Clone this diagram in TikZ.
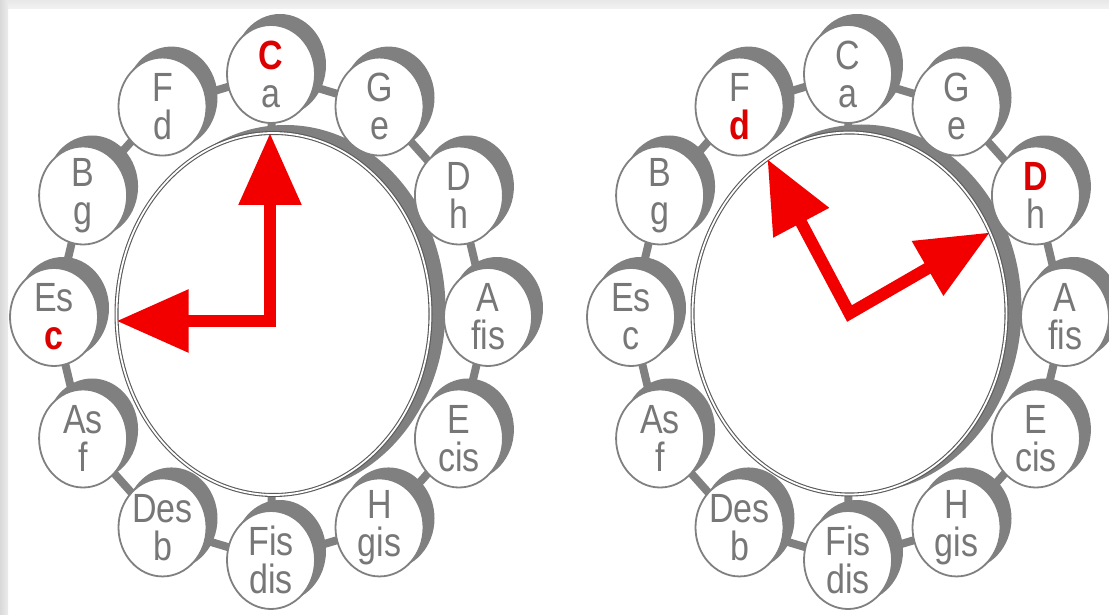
\documentclass[tikz,border=0pt]{standalone}
\usepackage{graphicx}
\usepackage{fontspec}
\setmainfont{Liberation Sans}
\usetikzlibrary{shapes.geometric,arrows.meta,calc}
\definecolor{ringgray}{HTML}{808080}
\definecolor{txtgray}{HTML}{777777}
\definecolor{dialline}{HTML}{5A5A5A}
\definecolor{hired}{HTML}{DD0000}
\definecolor{arrred}{HTML}{F20000}
\newcommand{\st}[1]{\scalebox{1}[1.2]{#1}}
\newcommand{\hl}[1]{\textcolor{hired}{\bfseries #1}}
\pgfdeclarelayer{back}
\pgfdeclarelayer{bg}
\pgfsetlayers{back,bg,main}
\tikzset{
  key/.style={ellipse, draw=ringgray, line width=1.8pt, fill=white,
    minimum width=88pt, minimum height=98pt, inner xsep=-15pt, inner ysep=-20pt,
    outer sep=0pt, align=center, text=txtgray, font=\fontsize{34pt}{38pt}\selectfont},
  link/.style={draw=ringgray, line width=8pt},
  dial/.style={ellipse, draw=dialline, double=white, double distance=1.8pt,
    line width=1.1pt, fill=white, minimum width=314pt, minimum height=362pt,
    inner sep=0pt, outer sep=0pt},
  hand/.style={draw=arrred, line width=12pt, line join=miter,
    {Triangle[length=72pt,width=60pt]}-{Triangle[length=72pt,width=60pt]}},
}
\begin{document}
\begin{tikzpicture}[x=1pt,y=1pt]
\useasboundingbox (0,0) rectangle (1109,614);
\begin{pgfonlayer}{back}
  \fill[white] (0,0) rectangle (1109,614);
  \shade[top color=gray!18, bottom color=gray!10] (0,605) rectangle (1109,614);
  \shade[left color=gray!30, right color=gray!15] (0,0) rectangle (8,614);
\end{pgfonlayer}

% ---------- left wheel ----------
\coordinate (ringL) at (271,297);
\node[dial] (dL) at (273.5,300) {};
\node[key] (LC)   at ($(ringL)+(90:217pt and 243pt)$)   {\st{\hl{C}}\\\st{a}};
\node[key] (LG)   at ($(ringL)+(60:217pt and 243pt)$)   {\st{G}\\\st{e}};
\node[key] (LD)   at ($(ringL)+(30:217pt and 243pt)$)   {\st{D}\\\st{h}};
\node[key] (LA)   at ($(ringL)+(0:217pt and 243pt)$)    {\st{A}\\\st{fis}};
\node[key] (LE)   at ($(ringL)+(-30:217pt and 243pt)$)  {\st{E}\\\st{cis}};
\node[key] (LH)   at ($(ringL)+(-60:217pt and 243pt)$)  {\st{H}\\\st{gis}};
\node[key] (LFis) at ($(ringL)+(-90:217pt and 243pt)$)  {\st{Fis}\\\st{dis}};
\node[key] (LDes) at ($(ringL)+(-120:217pt and 243pt)$) {\st{Des}\\\st{b}};
\node[key] (LAs)  at ($(ringL)+(-150:217pt and 243pt)$) {\st{As}\\\st{f}};
\node[key] (LEs)  at ($(ringL)+(180:217pt and 243pt)$)  {\st{Es}\\\st{\hl{c}}};
\node[key] (LB)   at ($(ringL)+(150:217pt and 243pt)$)  {\st{B}\\\st{g}};
\node[key] (LF)   at ($(ringL)+(120:217pt and 243pt)$)  {\st{F}\\\st{d}};

% ---------- right wheel ----------
\coordinate (ringR) at (848,297);
\node[dial] (dR) at (849.5,300.5) {};
\node[key] (RC)   at ($(ringR)+(90:217pt and 243pt)$)   {\st{C}\\\st{a}};
\node[key] (RG)   at ($(ringR)+(60:217pt and 243pt)$)   {\st{G}\\\st{e}};
\node[key] (RD)   at ($(ringR)+(30:217pt and 243pt)$)   {\st{\hl{D}}\\\st{h}};
\node[key] (RA)   at ($(ringR)+(0:217pt and 243pt)$)    {\st{A}\\\st{fis}};
\node[key] (RE)   at ($(ringR)+(-30:217pt and 243pt)$)  {\st{E}\\\st{cis}};
\node[key] (RH)   at ($(ringR)+(-60:217pt and 243pt)$)  {\st{H}\\\st{gis}};
\node[key] (RFis) at ($(ringR)+(-90:217pt and 243pt)$)  {\st{Fis}\\\st{dis}};
\node[key] (RDes) at ($(ringR)+(-120:217pt and 243pt)$) {\st{Des}\\\st{b}};
\node[key] (RAs)  at ($(ringR)+(-150:217pt and 243pt)$) {\st{As}\\\st{f}};
\node[key] (REs)  at ($(ringR)+(180:217pt and 243pt)$)  {\st{Es}\\\st{c}};
\node[key] (RB)   at ($(ringR)+(150:217pt and 243pt)$)  {\st{B}\\\st{g}};
\node[key] (RF)   at ($(ringR)+(120:217pt and 243pt)$)  {\st{F}\\\st{\hl{d}}};

% ---------- shadows and links ----------
\begin{pgfonlayer}{bg}
  \foreach \s in {L,R}{
    \foreach \a/\b in {C/G,G/D,D/A,A/E,E/H,H/Fis,Fis/Des,Des/As,As/Es,Es/B,B/F,F/C}
      \draw[link] (\s\a) -- (\s\b);
    \draw[link] (\s C) -- (d\s);
    \draw[link] (\s Fis) -- (d\s);
    \foreach \n in {C,G,D,A,E,H,Fis,Des,As,Es,B,F}
      \fill[ringgray] ($(\s\n.center)+(9pt,9pt)$) ellipse [x radius=46pt, y radius=51pt];
    \fill[ringgray] ($(d\s.center)+(12pt,5pt)$) ellipse [x radius=160pt, y radius=184pt];
  }
\end{pgfonlayer}

% ---------- hands ----------
\coordinate (cL) at (270,293);
\draw[hand] (cL |- dL.north) -- (cL) -- (cL -| dL.west);
\coordinate (cR) at (dR.center);
\draw[hand] (dR.118) -- (cR) -- (dR.30);
\end{tikzpicture}
\end{document}
